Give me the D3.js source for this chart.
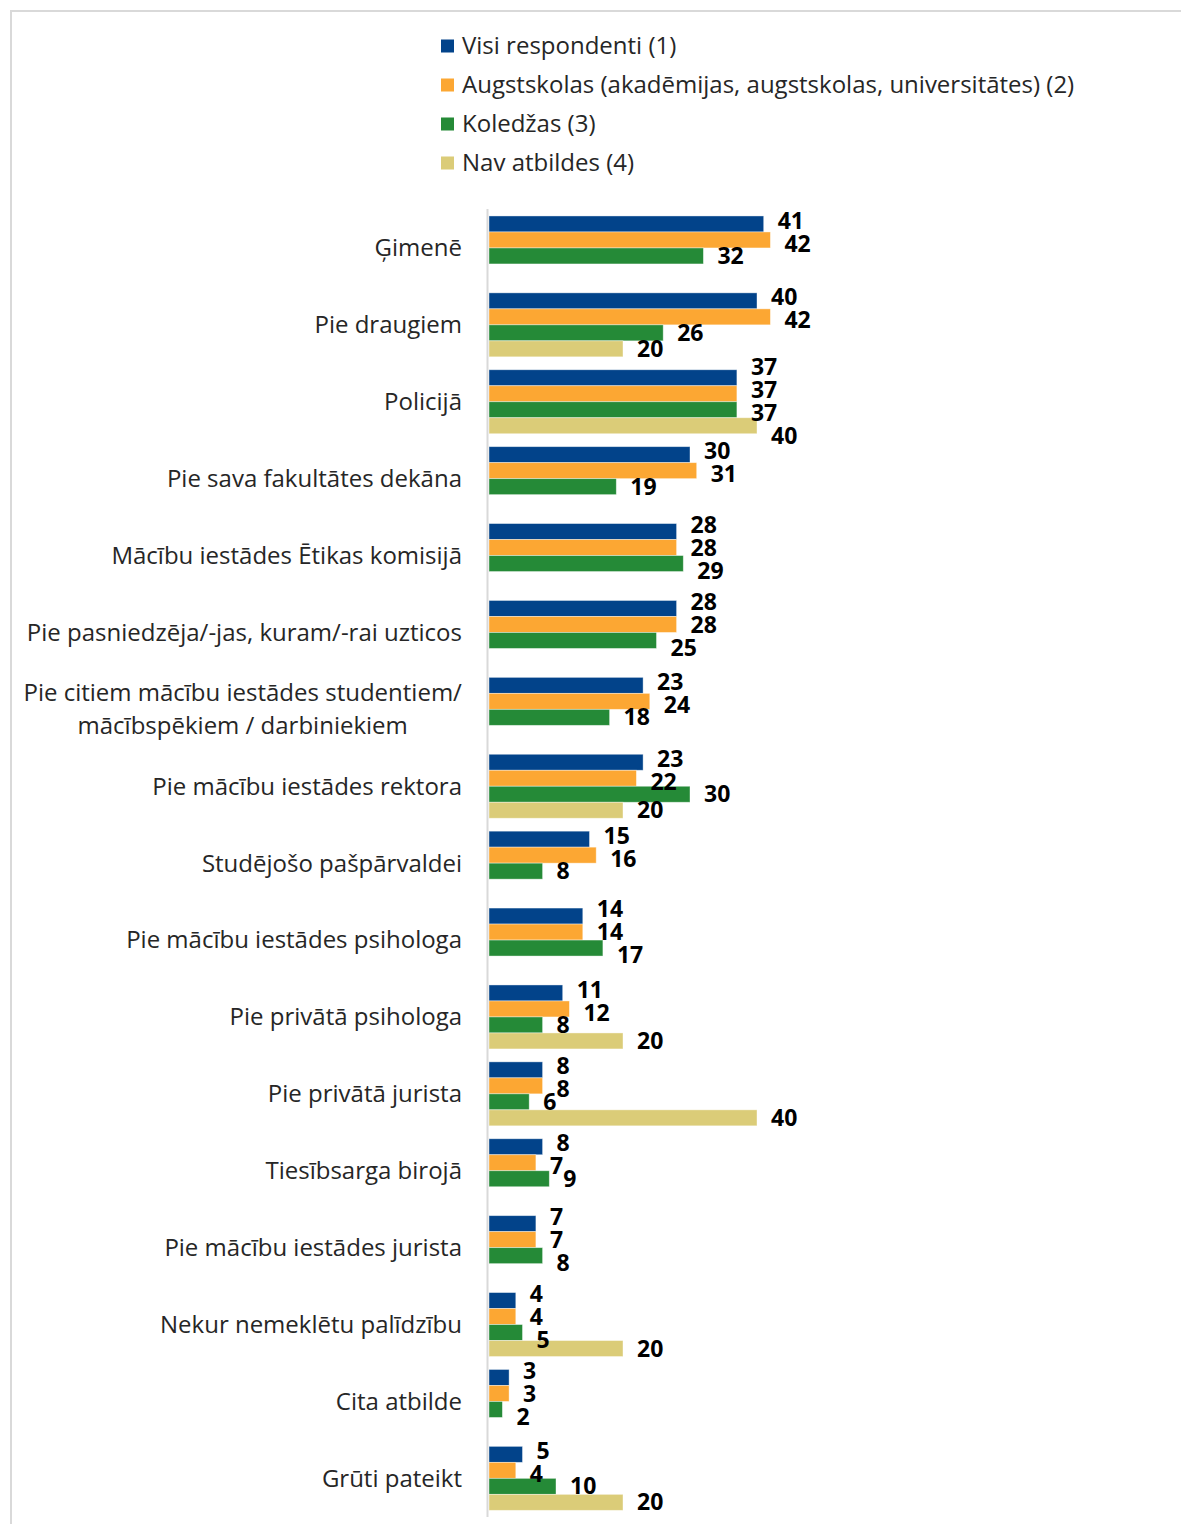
<!DOCTYPE html>
<html><head><meta charset="utf-8">
<script src="https://cdn.jsdelivr.net/npm/d3@7"></script>
<style>body{margin:0;background:#fff}svg{display:block}</style>
</head><body>
<svg id="chart" width="1181" height="1524"></svg>
<script>
const categories = ["Ģimenē","Pie draugiem","Policijā","Pie sava fakultātes dekāna","Mācību iestādes Ētikas komisijā","Pie pasniedzēja/-jas, kuram/-rai uzticos","Pie citiem mācību iestādes studentiem/|mācībspēkiem / darbiniekiem","Pie mācību iestādes rektora","Studējošo pašpārvaldei","Pie mācību iestādes psihologa","Pie privātā psihologa","Pie privātā jurista","Tiesībsarga birojā","Pie mācību iestādes jurista","Nekur nemeklētu palīdzību","Cita atbilde","Grūti pateikt"];
const seriesNames = ["Visi respondenti (1)","Augstskolas (akadēmijas, augstskolas, universitātes) (2)","Koledžas (3)","Nav atbildes (4)"];
const visi   = [41,40,37,30,28,28,23,23,15,14,11,8,8,7,4,3,5];
const augst  = [42,42,37,31,28,28,24,22,16,14,12,8,7,7,4,3,4];
const koled  = [32,26,37,19,29,25,18,30,8,17,8,6,9,8,5,2,10];
const navAtb = [null,20,40,null,null,null,null,20,null,null,20,40,null,null,20,null,20];
const colors = ["#02438A","#FCA733","#258A37","#DBCC78"];

const series = [visi, augst, koled, navAtb];
const svg = d3.select("#chart");
const FONT = "'Open Sans', sans-serif";

// frame
svg.append("path").attr("d","M11,1524V11H1181").attr("fill","none").attr("stroke","#D9D9D9").attr("stroke-width",2);

const x = d3.scaleLinear().domain([0,100]).range([489,1159]);
const y = d3.scaleBand().domain(categories).range([209.5,1516.8]).paddingInner(0.168).paddingOuter(0.084);
const ySub = d3.scaleBand().domain(d3.range(4)).range([0,y.bandwidth()]);

// legend
const lg = svg.append("g");
seriesNames.forEach((n,i)=>{
  const cy = 46 + i*39;
  lg.append("rect").attr("x",441).attr("y",cy-6.5).attr("width",13).attr("height",13).attr("fill",colors[i]);
  lg.append("text").attr("x",462).attr("y",cy).attr("dy","0.35em")
    .attr("font-family",FONT).attr("font-size",24).attr("fill","#262626").text(n);
});

// category axis labels
const yl = svg.append("g");
categories.forEach(c=>{
  const lines = c.split("|");
  const cy = y(c) + y.bandwidth()/2;
  const t = yl.append("text").attr("font-family",FONT).attr("font-size",24).attr("fill","#262626");
  if(lines.length===1){
    t.attr("x",462).attr("y",cy).attr("dy","0.35em").attr("text-anchor","end").text(c);
  } else {
    lines.forEach((l,k)=>{
      t.append("tspan").attr("x",0).attr("y",cy + (k-(lines.length-1)/2)*33).attr("dy","0.35em").attr("text-anchor","middle").text(l);
    });
    const w = t.node().getBBox().width;
    t.attr("transform",`translate(${462 - w/2},0)`);
  }
});

// bars
const bars = svg.append("g");
const labels = [];
categories.forEach((c,ci)=>{
  series.forEach((s,si)=>{
    const v = s[ci];
    if(v==null) return;
    const by = y(c) + ySub(si);
    bars.append("rect").attr("x",x(0)).attr("y",by).attr("width",x(v)-x(0)).attr("height",ySub.bandwidth())
      .attr("fill",colors[si]).attr("stroke","#ffffff").attr("stroke-opacity",0.5).attr("stroke-width",0.8);
    labels.push({ci, si, v, x: x(v)+14, y0: by + ySub.bandwidth()/2, y: by + ySub.bandwidth()/2});
  });
});

// axis line
svg.append("line").attr("x1",487.5).attr("x2",487.5).attr("y1",209).attr("y2",1517).attr("stroke","#D9D9D9").attr("stroke-width",2);

// data labels with simple overlap relaxation
const lab = svg.append("g");
labels.forEach(L=>{
  L.node = lab.append("text").attr("font-family",FONT).attr("font-size",23).attr("font-weight","bold").attr("fill","#000").attr("x",L.x).text(L.v);
  L.w = L.node.node().getComputedTextLength();
});
const H = 23;
for(let it=0; it<200; it++){
  for(let a=0;a<labels.length;a++){
    for(let b=a+1;b<labels.length;b++){
      const A=labels[a], B=labels[b];
      if(A.ci!==B.ci) continue;
      if(A.x + A.w < B.x || B.x + B.w < A.x) continue;
      const d = B.y - A.y;
      const ov = H - Math.abs(d);
      if(ov>0){
        const s = d>=0?1:-1;
        A.y -= s*ov/2; B.y += s*ov/2;
      }
    }
  }
}
labels.forEach(L=>{ L.node.attr("y",L.y).attr("dy","0.35em"); });
</script>
</body></html>
